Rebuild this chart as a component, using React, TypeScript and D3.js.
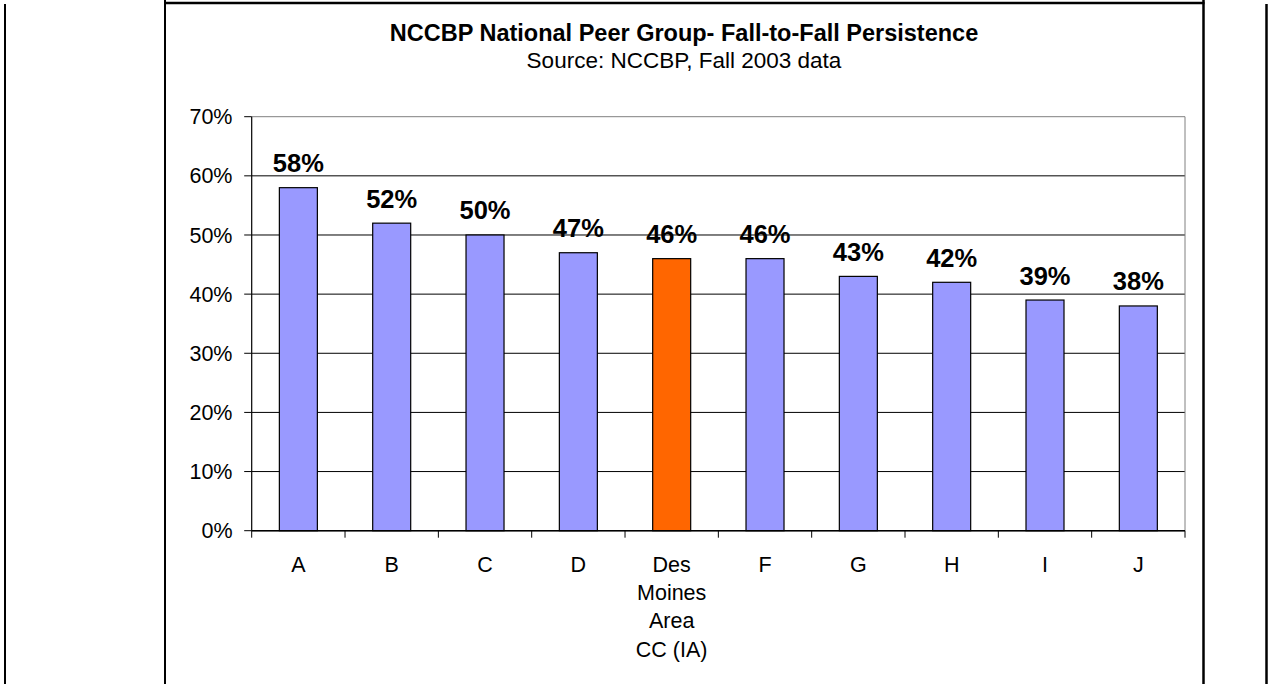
import React from "react";
import * as d3 from "d3";

const categories: string[] = ["A", "B", "C", "D", "Des Moines Area CC (IA)", "F", "G", "H", "I", "J"];
const categoryLines: string[][] = [["A"], ["B"], ["C"], ["D"], ["Des", "Moines", "Area", "CC (IA)"], ["F"], ["G"], ["H"], ["I"], ["J"]];
const values: number[] = [0.58, 0.52, 0.5, 0.47, 0.46, 0.46, 0.43, 0.42, 0.39, 0.38];
const highlight: string = "Des Moines Area CC (IA)";
const yTicks: number[] = [0, 0.1, 0.2, 0.3, 0.4, 0.5, 0.6, 0.7];
const title = "NCCBP National Peer Group- Fall-to-Fall Persistence";
const subtitle = "Source: NCCBP, Fall 2003 data";

const W = 1269;
const H = 684;
const FONT = "'Liberation Sans', Arial, Helvetica, sans-serif";

export default function App() {
  const left = 251.7, right = 1185, top = 116.7, bottom = 530.7;
  const x = d3.scaleBand<string>().domain(categories).range([left, right]).paddingInner(0).paddingOuter(0);
  const y = d3.scaleLinear().domain([0, 0.7]).range([bottom, top]);
  const barW = 38;
  const fmt = d3.format(".0%");

  return (
    <svg width={W} height={H} style={{ position: "absolute", left: 0, top: 0, background: "#fff" }} fontFamily={FONT}>
      <rect x={0} y={0} width={W} height={H} fill="#fff" />
      {/* frame lines */}
      <line x1={5} y1={4} x2={5} y2={H} stroke="#000" strokeWidth={2} />
      <line x1={165} y1={0} x2={165} y2={H} stroke="#000" strokeWidth={2} />
      <line x1={1203.5} y1={0} x2={1203.5} y2={H} stroke="#000" strokeWidth={2.5} />
      <line x1={1266.5} y1={4} x2={1266.5} y2={H} stroke="#000" strokeWidth={2.5} />
      <line x1={164} y1={3} x2={1204.5} y2={3} stroke="#000" strokeWidth={2.5} />

      {/* title */}
      <text x={684} y={41} textAnchor="middle" fontWeight="bold" fontSize={23.5} fill="#000">{title}</text>
      <text x={684} y={68} textAnchor="middle" fontSize={22.5} fill="#000">{subtitle}</text>

      {/* gridlines */}
      {yTicks.map((t) => (
        <line key={"g" + t} x1={left} x2={right} y1={y(t)} y2={y(t)} stroke={t === 0.7 ? "#808080" : "#000"} strokeWidth={1} />
      ))}
      {/* plot area right border */}
      <line x1={right} x2={right} y1={top} y2={bottom} stroke="#808080" strokeWidth={1} />

      {/* y ticks */}
      {yTicks.map((t) => (
        <g key={"t" + t}>
          <line x1={left - 7.5} x2={left} y1={y(t)} y2={y(t)} stroke="#000" strokeWidth={1} />
          <text x={232.5} y={y(t)} dy="0.35em" textAnchor="end" fontSize={21.5} fill="#000">{fmt(t)}</text>
        </g>
      ))}

      {/* bars */}
      {categories.map((c, i) => {
        const cx = (x(c) as number) + x.bandwidth() / 2;
        return (
          <g key={c}>
            <rect x={cx - barW / 2} y={y(values[i])} width={barW} height={bottom - y(values[i])}
              fill={c === highlight ? "#FF6600" : "#9999FF"} stroke="#000" strokeWidth={1.2} />
            <text x={cx} y={y(values[i]) - 15.5} textAnchor="middle" fontWeight="bold" fontSize={25.5} fill="#000">{fmt(values[i])}</text>
          </g>
        );
      })}

      {/* axes lines */}
      <line x1={left} x2={left} y1={top} y2={bottom} stroke="#000" strokeWidth={1.2} />
      <line x1={left} x2={right} y1={bottom} y2={bottom} stroke="#000" strokeWidth={1.5} />
      {categories.map((c) => (
        <line key={"xt" + c} x1={x(c) as number} x2={x(c) as number} y1={bottom} y2={bottom + 7} stroke="#000" strokeWidth={1} />
      ))}
      <line x1={right} x2={right} y1={bottom} y2={bottom + 7} stroke="#000" strokeWidth={1} />

      {/* category labels */}
      {categories.map((c, i) => {
        const cx = (x(c) as number) + x.bandwidth() / 2;
        return (
          <text key={"l" + c} x={cx} y={571.7} textAnchor="middle" fontSize={21.5} fill="#000">
            {categoryLines[i].map((ln, k) => (
              <tspan key={k} x={cx} y={571.7 + k * 28.3}>{ln}</tspan>
            ))}
          </text>
        );
      })}
    </svg>
  );
}
